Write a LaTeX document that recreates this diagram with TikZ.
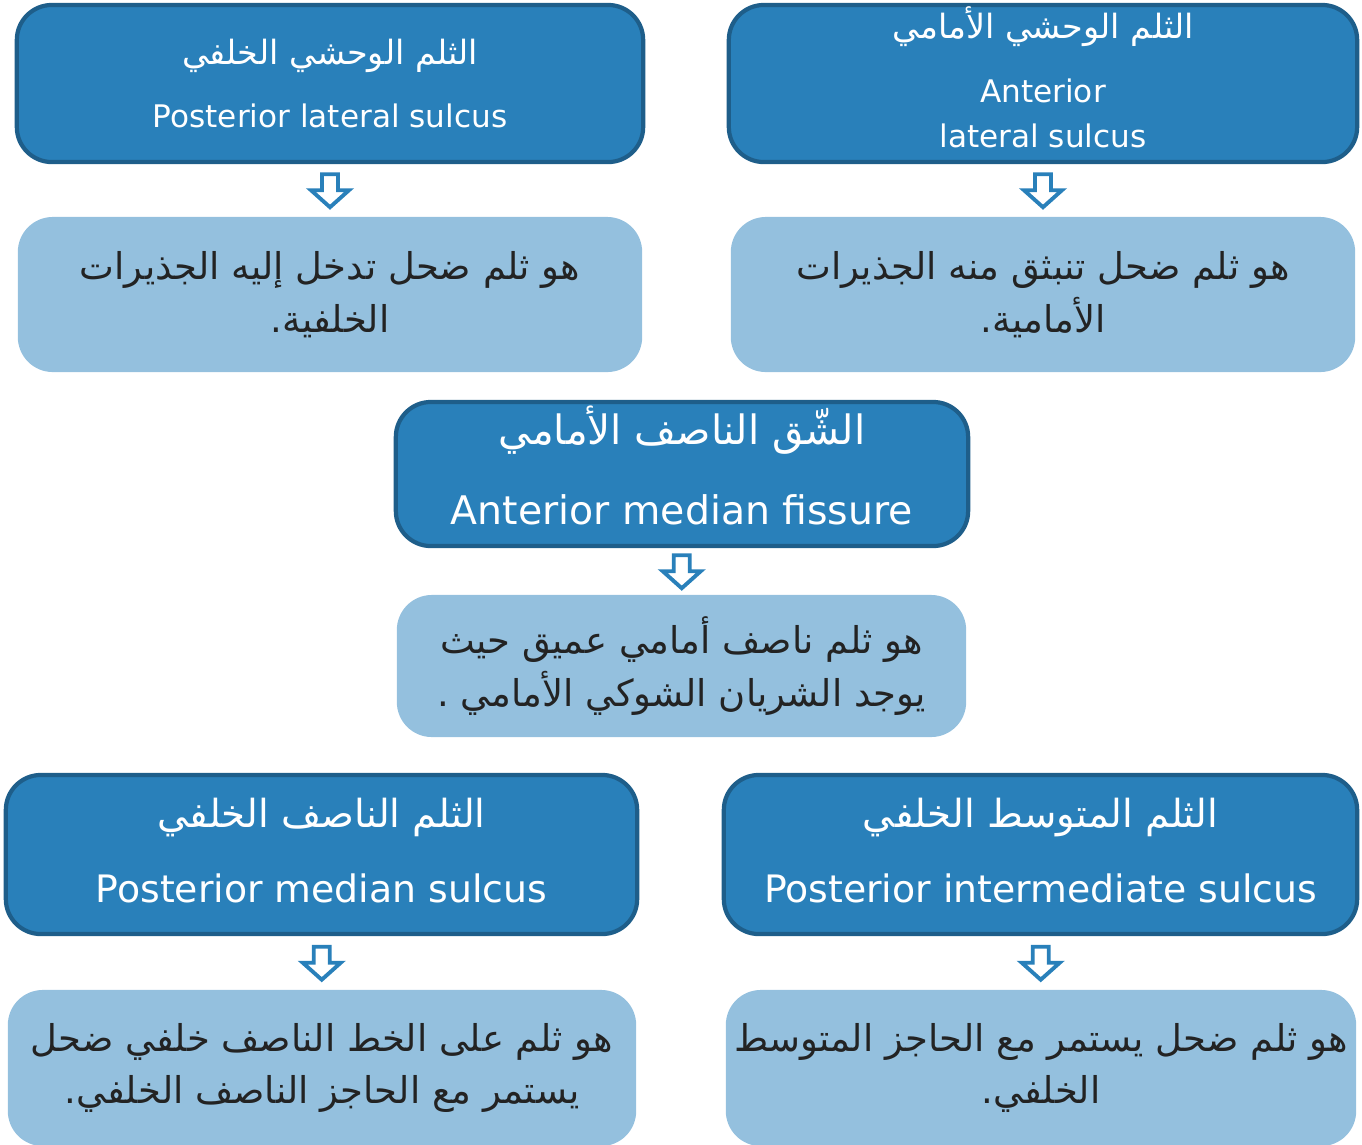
\documentclass[tikz,border=0pt]{standalone}
\usepackage{fontspec}
\setmainfont{DejaVu Sans}
\newfontfamily\arabicfont[Script=Arabic]{DejaVu Sans}
\TeXXeTstate=1
\usetikzlibrary{calc}
\definecolor{boxblue}{RGB}{41,128,186}
\definecolor{boxedge}{RGB}{30,94,138}
\definecolor{paleblue}{RGB}{148,192,222}
\definecolor{bodytext}{RGB}{35,35,35}
\tikzstyle{darkbox} = [draw=boxedge, fill=boxblue, line width=1.2pt, rounded corners=3.5mm, text=white, align=center, inner sep=0pt]
\tikzstyle{lightbox} = [fill=paleblue, rounded corners=3.5mm, text=bodytext, align=center, inner sep=0pt, font=\fontsize{10.5}{15}\selectfont]
\tikzset{downarrow/.pic={
	\draw[draw=boxblue, fill=white, line width=1.1pt, line join=miter]
		(-8,-16) -- (8,-16) -- (8,0) -- (19,0) -- (0,17) -- (-19,0) -- (-8,0) -- cycle;
}}
\newcommand{\ar}[1]{{\arabicfont\beginR #1\endR}}
\newcommand{\smallfont}{\fontsize{8.85}{12}\selectfont}
\newcommand{\midfont}{\fontsize{10.75}{14}\selectfont}

\begin{document}
\begin{tikzpicture}[x=0.01cm,y=-0.01cm]
	
	% define constants
	\def \boxw {6.26cm}
	\def \boxh {1.57cm}
	
	\clip (0,0) rectangle (1362,1144);
	
	% Top row
	\node[darkbox, minimum width=\boxw, minimum height=\boxh] (pls) at (330,83.5)
		{\ar{\fontsize{9.5}{12}\selectfont الثلم الوحشي الخلفي}\\[6pt] {\smallfont Posterior lateral sulcus}};
	\node[darkbox, minimum width=6.28cm, minimum height=\boxh, text depth=3.5pt] (als) at (1043,83.5)
		{\ar{\fontsize{9.5}{12}\selectfont الثلم الوحشي الأمامي}\\[6pt] {\smallfont Anterior}\\[1pt] {\smallfont lateral sulcus}};
	\node[lightbox, minimum width=6.24cm, minimum height=1.55cm] (plsd) at (330,294.5)
		{\ar{هو ثلم ضحل تدخل إليه الجذيرات}\\ \ar{الخلفية.}};
	\node[lightbox, minimum width=6.24cm, minimum height=1.55cm] (alsd) at (1043,294.5)
		{\ar{هو ثلم ضحل تنبثق منه الجذيرات}\\ \ar{الأمامية.}};
	
	% Middle
	\node[darkbox, minimum width=5.72cm, minimum height=1.44cm, text depth=5pt] (amf) at (682,474)
		{\ar{\fontsize{11.5}{14}\selectfont الشّق الناصف الأمامي}\\[11pt] {\fontsize{11.2}{14}\selectfont Anterior median fissure}};
	\node[lightbox, minimum width=5.69cm, minimum height=1.42cm] (amfd) at (681.5,666)
		{\ar{هو ثلم ناصف أمامي عميق حيث}\\ \ar{يوجد الشريان الشوكي الأمامي .}};
	
	% Bottom row
	\node[darkbox, minimum width=6.31cm, minimum height=1.59cm, text depth=2.3pt] (pms) at (321.5,854.5)
		{\ar{\fontsize{11}{14}\selectfont الثلم الناصف الخلفي}\\[9.3pt] {\midfont Posterior median sulcus}};
	\node[darkbox, minimum width=6.33cm, minimum height=1.59cm, text depth=2.3pt] (pis) at (1040.5,854.5)
		{\ar{\fontsize{11}{14}\selectfont الثلم المتوسط الخلفي}\\[9.3pt] {\midfont Posterior intermediate sulcus}};
	\node[lightbox, minimum width=6.28cm, minimum height=1.56cm] (pmsd) at (322,1068)
		{\ar{هو ثلم على الخط الناصف خلفي ضحل}\\ \ar{يستمر مع الحاجز الناصف الخلفي.}};
	\node[lightbox, minimum width=6.3cm, minimum height=1.56cm] (pisd) at (1041,1068)
		{\ar{هو ثلم ضحل يستمر مع الحاجز المتوسط}\\ \ar{الخلفي.}};
	
	% Arrows
	\path ($(pls.south)!0.5!(plsd.north)$) pic {downarrow};
	\path ($(als.south)!0.5!(alsd.north)$) pic {downarrow};
	\path ($(amf.south)!0.5!(amfd.north)$) pic {downarrow};
	\path ($(pms.south)!0.5!(pmsd.north)$) pic {downarrow};
	\path ($(pis.south)!0.5!(pisd.north)$) pic {downarrow};
	
\end{tikzpicture}
\end{document}
